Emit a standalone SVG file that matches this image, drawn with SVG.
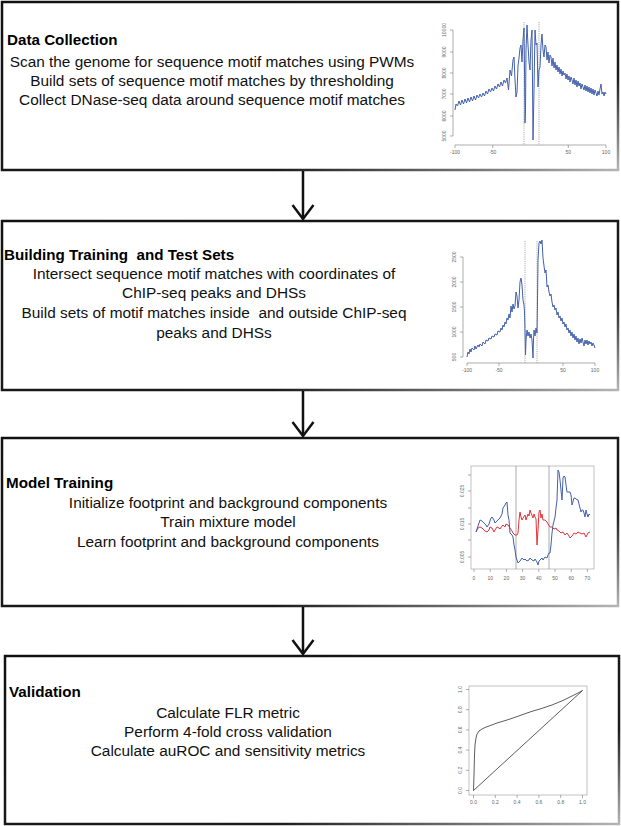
<svg xmlns="http://www.w3.org/2000/svg" width="621" height="826" viewBox="0 0 621 826">
<defs>
<linearGradient id="edge" x1="0" y1="0" x2="1" y2="1">
<stop offset="0" stop-color="#111"/>
<stop offset="0.72" stop-color="#1c1c1c"/>
<stop offset="1" stop-color="#b5b5b5"/>
</linearGradient>
<marker id="head" viewBox="-16 -12 18 24" markerWidth="18" markerHeight="24" markerUnits="userSpaceOnUse" refX="0" refY="0" orient="auto" overflow="visible">
<path d="M-14,-10.5 L0,0 L-14,10.5" fill="none" stroke="#111" stroke-width="2.5" stroke-linejoin="miter"/>
</marker>
<style>
.box{fill:#fff;stroke:url(#edge);stroke-width:2.5}
.t{font-family:"Liberation Sans",Arial,sans-serif;font-size:15.4px;fill:#111;text-anchor:middle;white-space:pre}
.h{font-family:"Liberation Sans",Arial,sans-serif;font-size:15.2px;font-weight:bold;fill:#000;white-space:pre}
.tk{font-family:"Liberation Sans",Arial,sans-serif;font-size:5px;fill:#666;text-anchor:middle}
.ax{stroke:#777;stroke-width:0.6;fill:none}
.fr{stroke:#999;stroke-width:0.6;fill:none}
.vl{stroke:#888;stroke-width:0.7}
.dl{stroke:#888;stroke-width:0.7;stroke-dasharray:1.2 1}
.blue{stroke:#4260ad;stroke-width:1;fill:none;stroke-linejoin:round}
.red{stroke:#e3323b;stroke-width:1;fill:none;stroke-linejoin:round}
.roc{stroke:#333;stroke-width:0.8;fill:none}
.arr{stroke:#111;stroke-width:2.5;fill:none;marker-end:url(#head)}
</style>
</defs>
<rect width="621" height="826" fill="#fff"/>

<g id="data-collection">
<rect class="box" x="2" y="2" width="616" height="168"/>
<text class="h" x="7" y="45">Data Collection</text>
<text class="t" x="212" y="67">Scan the genome for sequence motif matches using PWMs</text>
<text class="t" x="212" y="86">Build sets of sequence motif matches by thresholding</text>
<text class="t" x="212" y="105">Collect DNase-seq data around sequence motif matches</text>
<g id="plot1">
<path class="ax" d="M453,30V136 M453,30h-3 M453,52h-3 M453,73h-3 M453,94h-3 M453,116h-3 M453,136h-3"/>
<path class="ax" d="M455,145H606 M455,145v3 M492.75,145v3 M568.25,145v3 M606,145v3"/>
<text class="tk" transform="translate(446,30) rotate(-90)">10000</text>
<text class="tk" transform="translate(446,52) rotate(-90)">9000</text>
<text class="tk" transform="translate(446,73) rotate(-90)">8000</text>
<text class="tk" transform="translate(446,94) rotate(-90)">7000</text>
<text class="tk" transform="translate(446,116) rotate(-90)">6000</text>
<text class="tk" transform="translate(446,136) rotate(-90)">5000</text>
<text class="tk" x="455" y="154">-100</text>
<text class="tk" x="492.75" y="154">-50</text>
<text class="tk" x="568.25" y="154">50</text>
<text class="tk" x="606" y="154">100</text>
<line class="dl" x1="524" y1="22" x2="524" y2="145"/>
<line class="dl" x1="539" y1="22" x2="539" y2="145"/>
<polyline class="blue" points="455,110 456,104 457.5,106 459,101 460.5,105 462,100 463.5,104 465,99 466.5,103 468,98 469.5,102 471,97 472.5,101 474,96 475.5,100 477,95 478.5,98 480,94 481.5,97 483,93 484.5,96 486,91 487.5,94 489,89 490.5,92 492,88 493.5,91 495,86 496.5,89 498,84 499.5,87 501,82 502.5,86 504,80 505.5,83 507,78 508.5,90 510,70 511.5,76 513,60 514,57 515,80 516,97 517,92 518,66 519,58 520,48 521,45 522,62 523,40 524,28 524.5,70 525,123 525.5,110 526,50 527,25 528,45 529,62 530,70 531,40 532,30 532.5,80 533,140 534,90 535,30 536,45 537,43 538,87 539,70 540,67 541,45 542,34 543,50 544,57 545,45 546,47 547,60 548,52 549,63 550,55 551,57 552,66 553,58 554,68 555,62 556,70 557,65 558,72 559,67 560,74 561,69 562,76 563,71 564,75 565,73 566,79 567,74 568,80 569,76 570,82 571,77 572,80 573,84 574,78 575,85 576,80 577,87 578,81 579,86 580,83 581,89 582,84 583,87 584,90 585,85 586,91 587,86 588,92 589,87 590,93 591,88 592,94 593,89 594,95 595,90 596,93 597,96 598,91 599,95 600,89 601,84 602,94 603,92 604,96 605,92 606,94"/>
</g>
</g>

<g id="building-sets">
<rect class="box" x="2" y="221" width="616" height="169"/>
<text class="h" x="4" y="260">Building Training  and Test Sets</text>
<text class="t" x="214" y="279">Intersect sequence motif matches with coordinates of</text>
<text class="t" x="214" y="298">ChIP-seq peaks and DHSs</text>
<text class="t" x="214" y="318">Build sets of motif matches inside  and outside ChIP-seq</text>
<text class="t" x="214" y="338">peaks and DHSs</text>
<g id="plot2">
<path class="ax" d="M463,257V357 M463,257h-3 M463,282h-3 M463,307h-3 M463,332h-3 M463,357h-3"/>
<path class="ax" d="M467,363H595 M467,363v3 M499,363v3 M563,363v3 M595,363v3"/>
<text class="tk" transform="translate(456,257) rotate(-90)">2500</text>
<text class="tk" transform="translate(456,282) rotate(-90)">2000</text>
<text class="tk" transform="translate(456,307) rotate(-90)">1500</text>
<text class="tk" transform="translate(456,332) rotate(-90)">1000</text>
<text class="tk" transform="translate(456,357) rotate(-90)">500</text>
<text class="tk" x="467" y="372">-100</text>
<text class="tk" x="499" y="372">-50</text>
<text class="tk" x="563" y="372">50</text>
<text class="tk" x="595" y="372">100</text>
<line class="dl" x1="525" y1="241" x2="525" y2="363"/>
<line class="dl" x1="537" y1="241" x2="537" y2="363"/>
<polyline class="blue" points="467,357 468,352 469,354 470,349 471,352 472,348 474,350 475,346 476,349 478,345 479,347 480,344 482,346 483,342 485,344 486,340 488,341 489,338 491,339 492,336 494,337 495,334 497,335 498,331 500,332 501,328 502,330 503,325 504,327 505,322 506,324 507,318 508,320 509,314 510,318 511,306 512,312 513,304 514,309 515,306 516,292 517,296 518,308 519,300 520,282 521,278 522,285 523,300 524,305 524.5,312 525,330 525.5,355 526,340 527,330 528,336 529,332 530,338 531,334 532,340 533,358 533.5,340 534,330 535,336 536,328 537,333 537.5,300 538,260 539,243 540,241 541,244 542,240 543,258 544,266 545,273 546,270 547,287 548,285 549,292 550,296 551,294 552,302 553,307 554,305 555,310 556,308 557,315 558,312 559,318 560,316 561,321 562,318 563,324 564,322 565,327 566,324 567,330 568,328 569,333 570,330 571,336 572,332 573,338 574,334 575,340 576,336 577,342 578,338 579,344 580,339 581,343 582,338 583,342 584,346 585,340 586,344 587,340 588,345 589,341 590,344 591,342 592,346 593,343 594,345 595,348"/>
</g>
</g>

<g id="model-training">
<rect class="box" x="2" y="438" width="616" height="168"/>
<text class="h" x="6" y="488">Model Training</text>
<text class="t" x="228" y="508">Initialize footprint and background components</text>
<text class="t" x="228" y="527">Train mixture model</text>
<text class="t" x="228" y="547">Learn footprint and background components</text>
<g id="plot3">
<rect class="fr" x="471" y="466" width="123" height="103"/>
<path class="ax" d="M471,475h-3 M471,491h-3 M471,508h-3 M471,524h-3 M471,540h-3 M471,557h-3 M474,569v3 M490.2,569v3 M506.4,569v3 M522.6,569v3 M538.8,569v3 M555,569v3 M571.2,569v3 M587.4,569v3"/>
<text class="tk" transform="translate(464,491) rotate(-90)">0.025</text>
<text class="tk" transform="translate(464,524) rotate(-90)">0.015</text>
<text class="tk" transform="translate(464,557) rotate(-90)">0.005</text>
<text class="tk" x="474" y="580">0</text>
<text class="tk" x="490.2" y="580">10</text>
<text class="tk" x="506.4" y="580">20</text>
<text class="tk" x="522.6" y="580">30</text>
<text class="tk" x="538.8" y="580">40</text>
<text class="tk" x="555" y="580">50</text>
<text class="tk" x="571.2" y="580">60</text>
<text class="tk" x="587.4" y="580">70</text>
<line class="vl" x1="516" y1="466" x2="516" y2="569"/>
<line class="vl" x1="549" y1="466" x2="549" y2="569"/>
<polyline class="red" points="476,532 478,528 480,527 482,528 484,530 485,531 487,532 489,530 490,527 492,528 494,532 495,530 497,527 499,528 500,529 502,526 503,525 505,527 506,524 508,525 510,528 512,531 513,533 515,535 517,535 518,533 519,520 520,512 521,517 522,520 523,518 525,515 526,520 528,514 529,516 530,510 531,513 533,518 534,514 535,517 536,519 537,545 538,530 539,512 540,510 541,518 542,514 543,520 545,520 547,522 548,524 550,527 552,527 554,529 556,528 557,530 559,531 561,533 563,532 565,535 567,533 569,536 570,538 572,536 574,533 576,534 578,532 580,533 582,534 584,533 586,537 588,533 590,532"/>
<polyline class="blue" points="476,532 478,526 480,520 482,521 484,523 486,525 487,527 489,524 491,518 492,517 494,520 495,523 497,521 499,519 500,518 502,514 503,508 505,505 506,503 507,502 508,515 509,520 510,533 512,535 513,537 514,545 515,550 516,557 517,560 518,563 520,561 522,558 524,560 525,559 527,561 529,560 530,558 532,560 534,561 535,559 537,562 538,565 539,561 540,560 542,558 543,560 545,557 547,558 548,555 549,553 550,553 551,545 552,533 553,525 555,517 556,508 557,500 558,470 559,472 560,480 561,490 562,500 563,478 564,476 565,477 566,485 567,492 569,492 570,492 571,495 572,505 574,498 575,498 576,499 578,500 579,504 580,508 581,512 582,510 583,510 584,513 585,517 586,510 587,514 588,517 589,514 590,515"/>
</g>
</g>

<g id="validation">
<rect class="box" x="5" y="656" width="614" height="168"/>
<text class="h" x="9" y="697">Validation</text>
<text class="t" x="228" y="718">Calculate FLR metric</text>
<text class="t" x="228" y="737">Perform 4-fold cross validation</text>
<text class="t" x="228" y="756">Calculate auROC and sensitivity metrics</text>
<g id="plot4">
<rect class="fr" x="469" y="686" width="118" height="109"/>
<path class="ax" d="M469,790.5h-3 M469,770.3h-3 M469,750.1h-3 M469,729.9h-3 M469,709.7h-3 M469,689.5h-3 M473.5,795v3 M495.3,795v3 M517.1,795v3 M538.9,795v3 M560.7,795v3 M582.5,795v3"/>
<text class="tk" transform="translate(462,790.5) rotate(-90)">0.0</text>
<text class="tk" transform="translate(462,770.3) rotate(-90)">0.2</text>
<text class="tk" transform="translate(462,750.1) rotate(-90)">0.4</text>
<text class="tk" transform="translate(462,729.9) rotate(-90)">0.6</text>
<text class="tk" transform="translate(462,709.7) rotate(-90)">0.8</text>
<text class="tk" transform="translate(462,689.5) rotate(-90)">1.0</text>
<text class="tk" x="473.5" y="804">0.0</text>
<text class="tk" x="495.3" y="804">0.2</text>
<text class="tk" x="517.1" y="804">0.4</text>
<text class="tk" x="538.9" y="804">0.6</text>
<text class="tk" x="560.7" y="804">0.8</text>
<text class="tk" x="582.5" y="804">1.0</text>
<line class="roc" x1="473.5" y1="790.5" x2="582.5" y2="690.5"/>
<polyline class="roc" points="473.5,790.5 474,775 474.5,755 475,745 476,738 477,734 479,731 482,729 485,727.5 489,726 493,724.5 497,723 502,721.5 507,720 513,718 520,715.5 527,713 533,711 540,709 546,707 552,705 558,702.5 564,700 568,698 572,696 576,694 579,692.5 582.5,690.5"/>
</g>
</g>

<g id="connectors">
<line class="arr" x1="303" y1="171" x2="303" y2="219"/>
<line class="arr" x1="303" y1="391" x2="303" y2="436"/>
<line class="arr" x1="303" y1="607" x2="303" y2="654"/>
</g>
</svg>
